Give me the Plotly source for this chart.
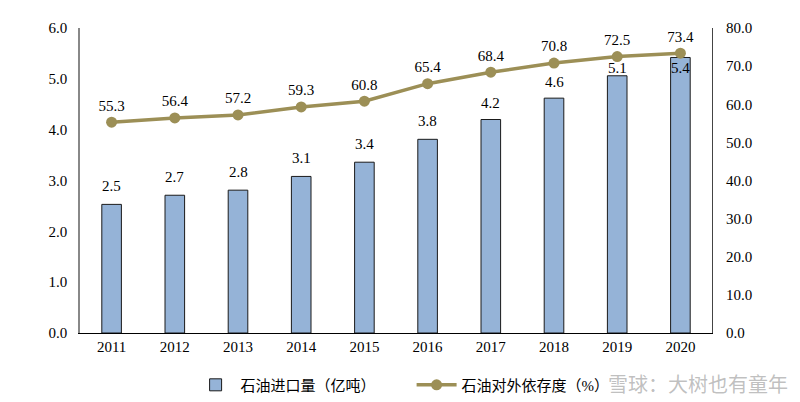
import plotly.graph_objects as go

years = ["2011", "2012", "2013", "2014", "2015", "2016", "2017", "2018", "2019", "2020"]
imports = [2.53, 2.71, 2.81, 3.08, 3.36, 3.81, 4.20, 4.62, 5.06, 5.42]
dependence = [55.3, 56.4, 57.2, 59.3, 60.8, 65.4, 68.4, 70.8, 72.5, 73.4]
left_ticks = [0, 1, 2, 3, 4, 5, 6]
right_ticks = [0, 10, 20, 30, 40, 50, 60, 70, 80]

serif = "Liberation Serif, Times New Roman, serif"
cjk = "Liberation Serif, Noto Sans CJK SC, serif"

fig = go.Figure()
fig.add_trace(go.Bar(
    x=years, y=imports, name="石油进口量（亿吨）",
    marker=dict(color="#95B3D7", line=dict(color="#1a1a1a", width=1)),
    width=0.31,
))
fig.add_trace(go.Scatter(
    x=years, y=dependence, name="石油对外依存度（%）", yaxis="y2",
    mode="lines+markers+text",
    line=dict(color="#9C8F56", width=3.5),
    marker=dict(color="#9C8F56", size=11),
    text=[f"{v:.1f}" for v in dependence],
    textposition="top center",
    textfont=dict(family=serif, size=15, color="#000"),
    cliponaxis=False,
))

# bar value labels, positioned by category index on the category axis
label_shift = [18, 18, 18, 18, 18, 18, 17, 16, 8, -11]
bar_labels = [
    dict(x=i, y=v, xref="x", yref="y", text=f"{v:.1f}", showarrow=False,
         yanchor="middle", yshift=label_shift[i],
         font=dict(family=serif, size=15, color="#000"))
    for i, v in enumerate(imports)
]

fig.update_layout(
    width=800, height=402,
    margin=dict(l=72, r=96, t=20, b=77, autoexpand=False),
    paper_bgcolor="white", plot_bgcolor="white",
    font=dict(family=serif, size=15, color="#000"),
    showlegend=True,
    legend=dict(orientation="h", x=0.175, xanchor="left", yref="container",
                y=0.062, yanchor="middle", entrywidth=166, entrywidthmode="pixels",
                font=dict(family=cjk, size=15, color="#000"), itemwidth=40,
                tracegroupgap=0),
    bargap=0.69,
    xaxis=dict(type="category", range=[-0.5, len(years) - 0.5], showline=True,
               linecolor="#000", linewidth=1, ticks="",
               showgrid=False, tickfont=dict(family=serif, size=15)),
    yaxis=dict(range=[0, 6], tickvals=left_ticks, tickformat=".1f",
               showline=True, linecolor="#888", linewidth=1.5, showgrid=False,
               ticks="", zeroline=False, tickfont=dict(family=serif, size=15),
               ticklabelstandoff=8),
    yaxis2=dict(range=[0, 80], tickvals=right_ticks, tickformat=".1f",
                overlaying="y", side="right", showline=True, linecolor="#444",
                linewidth=1, showgrid=False, ticks="", zeroline=False,
                tickfont=dict(family=serif, size=15), ticklabelstandoff=10),
    annotations=bar_labels + [dict(text="雪球：大树也有童年", xref="paper", yref="paper",
                      x=1.123, y=-0.164, xanchor="right", yanchor="middle", showarrow=False,
                      font=dict(family="Noto Sans CJK SC", size=20, color="rgba(150,150,150,0.6)"))],
)

fig.write_html("out.html")
